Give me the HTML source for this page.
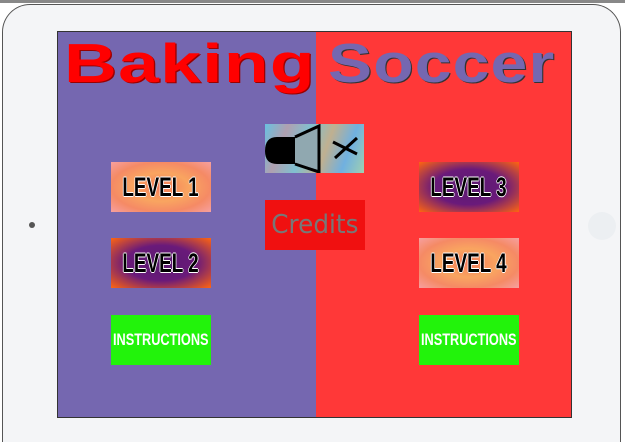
<!DOCTYPE html>
<html style="overflow:hidden;height:442px"><head><style>
body{margin:0;width:625px;height:442px;background:#fff;position:relative;overflow:hidden;font-family:"Liberation Sans",sans-serif}
.dev{position:absolute;left:2px;top:4px;width:619px;height:438px;background:#f4f5f7;border:1.5px solid #555;border-bottom:none;border-radius:28px 28px 0 0;box-sizing:border-box}
.topline{position:absolute;left:0;top:0;width:625px;height:3px;background:#888}
.scr{position:absolute;left:57px;top:31px;width:515px;height:387px;border:1.5px solid #333;box-sizing:border-box;background:#ff3838;overflow:hidden}
.l{position:absolute;left:0;top:0;width:258px;height:100%;background:#7567b0}
.b{position:absolute;width:100px;height:50px;display:flex;align-items:center;justify-content:center;font-weight:bold;font-family:"Liberation Sans",sans-serif;white-space:nowrap;overflow:hidden}
.lv{font-size:27px;font-weight:bold;color:#000;transform:scaleX(.7);display:inline-block;text-shadow:1px 0 0 #fff,-1px 0 0 #fff,0 1px 0 #fff,0 -1px 0 #fff}
.o{background:radial-gradient(ellipse at center,#f57a5a 0%,#f9a560 40%,#f58a65 70%,#f6a0a0 100%)}
.p{background:radial-gradient(ellipse at center,#5a1a70 0%,#6a1a7a 50%,#ff6510 100%)}
.g{background:#22f30b;color:#fff;font-size:17px}
.t{position:absolute;top:-1px;font-size:55px;font-weight:900;letter-spacing:1px;transform-origin:left top;white-space:nowrap}
</style></head><body>
<div class="topline"></div>
<div class="dev"></div>
<div style="position:absolute;left:29px;top:222px;width:6px;height:6px;border-radius:50%;background:#555"></div>
<div style="position:absolute;left:588px;top:212px;width:28px;height:28px;border-radius:50%;background:#eceff2"></div>
<div class="scr"><div class="l"></div>
<div class="t" style="left:6px;color:#ff0000;transform:scaleX(1.33);text-shadow:1px 1px 0 #900">Baking</div>
<div class="t" style="left:270px;color:#7567b0;transform:scaleX(1.2);text-shadow:1px 1px 0 #333">Soccer</div>
</div>
<div class="b o" style="left:111px;top:162px"><span class="lv">LEVEL 1</span></div>
<div class="b p" style="left:111px;top:238px"><span class="lv">LEVEL 2</span></div>
<div class="b g" style="left:111px;top:315px"><span style="display:inline-block;transform:scaleX(.75)">INSTRUCTIONS</span></div>
<div class="b p" style="left:419px;top:162px"><span class="lv">LEVEL 3</span></div>
<div class="b o" style="left:419px;top:238px"><span class="lv">LEVEL 4</span></div>
<div class="b g" style="left:419px;top:315px"><span style="display:inline-block;transform:scaleX(.75)">INSTRUCTIONS</span></div>
<div style="position:absolute;left:265px;top:124px;width:99px;height:49px;background:linear-gradient(110deg,#6ac0e0,#b0a0b0,#80c0d0,#c0b090,#70b0e0,#a0d0b0)">
<svg width="99" height="49"><path d="M12 13 L30 13 L54 2 L54 48 L30 40 L12 40 Q0 40 0 27 Q0 13 12 13Z" fill="#000"/><path d="M30 14 L53 4 L53 46 L30 39Z" fill="#90a8b0"/><path d="M30 13 L54 2 L54 48 L30 40" fill="none" stroke="#000" stroke-width="3"/><path d="M68 18 L92 30 M70 34 L92 14" stroke="#000" stroke-width="3"/></svg></div>
<div class="b" style="left:265px;top:200px;background:#f01010;color:#777;font-weight:normal;font-family:'DejaVu Sans',sans-serif;font-size:26px"><span style="display:inline-block;transform:scaleX(.95)">Credits</span></div>
</body></html>
